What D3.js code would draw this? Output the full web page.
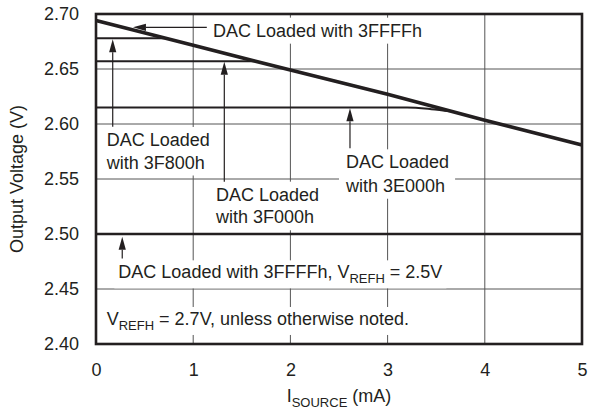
<!DOCTYPE html>
<html><head><meta charset="utf-8">
<script src="https://cdn.jsdelivr.net/npm/d3@7"></script>
<style>body{margin:0;background:#fff} text{font-family:"Liberation Sans",Arial,Helvetica,sans-serif;fill:#231f20}</style>
</head><body><svg id="c" width="589" height="410"></svg>
<script>
// ---- data ----
const xTicks = [0, 1, 2, 3, 4, 5];
const yTicks = [2.40, 2.45, 2.50, 2.55, 2.60, 2.65, 2.70];
const yTickLabels = ["2.40", "2.45", "2.50", "2.55", "2.60", "2.65", "2.70"];

const mainCurrent = [0, 1, 2, 3, 4, 5];
const mainVoltage = [2.694, 2.6715, 2.649, 2.627, 2.6035, 2.581];      // 3FFFFh
const f800Current = [0, 0.72];
const f800Voltage = [2.678, 2.678];                                       // 3F800h
const f000Current = [0, 1.65];
const f000Voltage = [2.657, 2.657];                                       // 3F000h
const e000Current = [0, 3.2, 3.45, 3.65];
const e000Voltage = [2.615, 2.615, 2.6135, 2.6115];                       // 3E000h
const ref25Current = [0, 5];
const ref25Voltage = [2.50, 2.50];                                        // 3FFFFh, VREFH=2.5V

// annotation texts
const labelTop = ["DAC Loaded with 3FFFFh"];
const label800 = ["DAC Loaded", "with 3F800h"];
const label000 = ["DAC Loaded", "with 3F000h"];
const labelE00 = ["DAC Loaded", "with 3E000h"];

// ---- layout ----
const svg = d3.select("#c");
const L = 96, R = 582, T = 14, B = 344;
const x = d3.scaleLinear().domain([0, 5]).range([L, R]);
const y = d3.scaleLinear().domain([2.40, 2.70]).range([B, T]);
const FS = 18, SUB = 13;

// grid
const grid = svg.append("g").attr("stroke", "#555").attr("stroke-width", 1);
grid.selectAll(".gx").data(xTicks.slice(1, -1)).join("line")
  .attr("x1", d => x(d)).attr("x2", d => x(d)).attr("y1", T).attr("y2", B);
grid.selectAll(".gy").data(yTicks.slice(1, -1)).join("line")
  .attr("y1", d => y(d)).attr("y2", d => y(d)).attr("x1", L).attr("x2", R);

// axes (labels only)
const xa = svg.append("g").attr("transform", `translate(0,${B})`)
  .call(d3.axisBottom(x).tickValues(xTicks).tickSize(0).tickPadding(19).tickFormat(d3.format("d")));
const ya = svg.append("g").attr("transform", `translate(${L},0)`)
  .call(d3.axisLeft(y).tickValues(yTicks).tickSize(0).tickPadding(17).tickFormat((d, i) => yTickLabels[i]));
[xa, ya].forEach(a => {
  a.select(".domain").remove();
  a.selectAll("text").attr("font-size", FS).attr("font-family", null).style("fill", "#231f20");
  a.attr("font-family", null).attr("font-size", null);
});

// annotation layer (white boxes behind text)
const boxLayer = svg.append("g");
const lineLayer = svg.append("g");
const annLayer = svg.append("g");

function addText(lines, xv, yv, lh) {
  const t = annLayer.append("text").attr("font-size", FS);
  lines.forEach((s, i) => {
    t.append("tspan").attr("x", x(xv)).attr("y", y(yv) + i * lh).text(s);
  });
  return t;
}
function richText(parts, xv, yv) {
  const t = annLayer.append("text").attr("font-size", FS).attr("x", x(xv)).attr("y", y(yv));
  parts.forEach(p => {
    if (p.sub) t.append("tspan").attr("font-size", SUB).attr("dy", 5).text(p.s);
    else t.append("tspan").attr("dy", p.after ? -5 : 0).text(p.s);
  });
  return t;
}
function box(t, px, py) {
  const b = t.node().getBBox();
  boxLayer.append("rect").attr("x", b.x - px).attr("y", b.y - py)
    .attr("width", b.width + 2 * px).attr("height", b.height + 2 * py).attr("fill", "#fff");
}

const tTop = addText(labelTop, 1.204, 2.6794, 0); box(tTop, 6, 3);
const t800 = addText(label800, 0.11, 2.58, 22.5); box(t800, 6, 3);
const t000 = addText(label000, 1.235, 2.5303, 22.6); box(t000, 6, 3);
const tE00 = addText(labelE00, 2.572, 2.5597, 23.4); box(tE00, 6, 3);
const t25 = richText([{s: "DAC Loaded with 3FFFFh, V"}, {s: "REFH", sub: true}, {s: " = 2.5V", after: true}], 0.23, 2.4597); box(t25, 4, 2);
const tNote = richText([{s: "V"}, {s: "REFH", sub: true}, {s: " = 2.7V, unless otherwise noted.", after: true}], 0.11, 2.4173); box(tNote, 4, 2);

// data lines
const line = d3.line().x(d => x(d[0])).y(d => y(d[1]));
const zip = (a, b) => a.map((v, i) => [v, b[i]]);
lineLayer.append("path").datum(zip(ref25Current, ref25Voltage)).attr("d", line)
  .attr("fill", "none").attr("stroke", "#231f20").attr("stroke-width", 2.5);
lineLayer.append("path").datum(zip(f800Current, f800Voltage)).attr("d", line)
  .attr("fill", "none").attr("stroke", "#231f20").attr("stroke-width", 2);
lineLayer.append("path").datum(zip(f000Current, f000Voltage)).attr("d", line)
  .attr("fill", "none").attr("stroke", "#231f20").attr("stroke-width", 2);
lineLayer.append("path").datum(zip(e000Current, e000Voltage)).attr("d", line.curve(d3.curveMonotoneX))
  .attr("fill", "none").attr("stroke", "#231f20").attr("stroke-width", 2);
lineLayer.append("path").datum(zip(mainCurrent, mainVoltage)).attr("d", d3.line().x(d => x(d[0])).y(d => y(d[1])))
  .attr("fill", "none").attr("stroke", "#231f20").attr("stroke-width", 3.6);

// arrows
const defs = svg.append("defs");
function arrow(x1, y1, x2, y2) {
  const X1 = x(x1), Y1 = y(y1), X2 = x(x2), Y2 = y(y2);
  const ang = Math.atan2(Y2 - Y1, X2 - X1), len = 13, hw = 3.6;
  const bx = X2 - len * Math.cos(ang), by = Y2 - len * Math.sin(ang);
  annLayer.append("line").attr("x1", X1).attr("y1", Y1).attr("x2", bx).attr("y2", by)
    .attr("stroke", "#231f20").attr("stroke-width", 1.2);
  const px = -Math.sin(ang) * hw, py = Math.cos(ang) * hw;
  annLayer.append("path").attr("d", `M${X2},${Y2}L${bx + px},${by + py}L${bx - px},${by - py}Z`).attr("fill", "#231f20");
}
arrow(1.14, 2.6879, 0.38, 2.6879);
arrow(0.172, 2.5975, 0.172, 2.677);
arrow(1.32, 2.5475, 1.32, 2.6566);
arrow(2.613, 2.578, 2.613, 2.6143);
arrow(0.27, 2.4778, 0.27, 2.4975);

// frame
svg.append("rect").attr("x", L).attr("y", T).attr("width", R - L).attr("height", B - T)
  .attr("fill", "none").attr("stroke", "#231f20").attr("stroke-width", 2.6);

// axis titles
svg.append("text").attr("transform", `translate(23,${(T + B) / 2}) rotate(-90)`)
  .attr("text-anchor", "middle").attr("font-size", FS).text("Output Voltage (V)");
const xt = svg.append("text").attr("x", (L + R) / 2).attr("y", 402).attr("text-anchor", "middle").attr("font-size", FS);
xt.append("tspan").text("I");
xt.append("tspan").attr("font-size", SUB).attr("dy", 5).text("SOURCE");
xt.append("tspan").attr("dy", -5).text(" (mA)");
</script></body></html>
